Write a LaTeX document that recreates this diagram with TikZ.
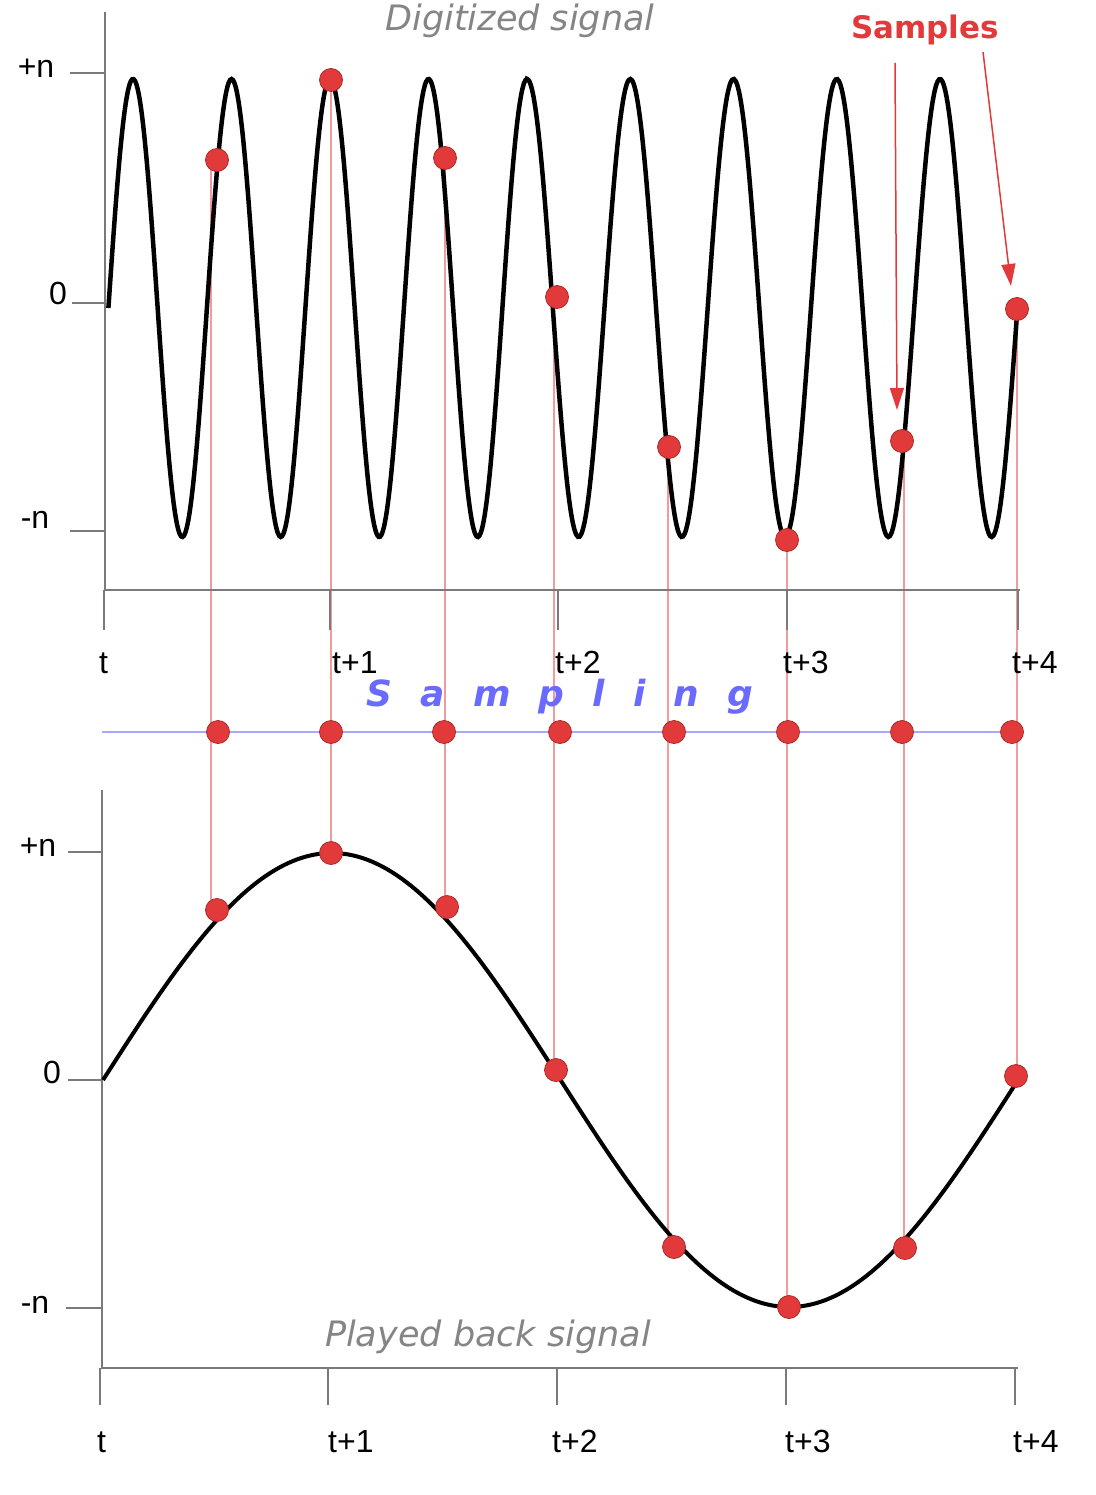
\documentclass[tikz,border=0pt]{standalone}
\usepackage{fontspec}
\setmainfont{Liberation Sans}
\newfontfamily\djv{DejaVu Sans}
\newfontfamily\djvsp[LetterSpace=78]{DejaVu Sans}
\usetikzlibrary{arrows.meta}
\pgfdeclarelayer{back}
\pgfdeclarelayer{bg}
\pgfsetlayers{back,bg,main}
\definecolor{dotred}{HTML}{E23A3A}
\definecolor{linered}{HTML}{F29A9E}
\definecolor{axisgray}{HTML}{7A7A7A}
\definecolor{sampblue}{HTML}{6A6AFF}
\definecolor{lineblue}{HTML}{A8A8FF}
\definecolor{labgray}{HTML}{858585}
\begin{document}
\begin{tikzpicture}[x=1pt,y=-1pt,
  axis/.style={draw=axisgray, line width=2pt},
  wave/.style={draw=black, line width=4.5pt},
  dot/.style={circle, fill=dotred, draw=dotred!75!black, line width=0.8pt, minimum size=23pt, inner sep=0pt},
  samp/.style={draw=linered, line width=1.8pt},
  ticklab/.style={font=\fontsize{32}{32}\selectfont, anchor=base west, inner sep=0pt},
  vlab/.style={font=\fontsize{32}{32}\selectfont, inner sep=0pt},
  titlelab/.style={font=\djv\itshape\fontsize{35}{35}\selectfont, text=labgray, inner sep=0pt},
  samparrow/.style={draw=dotred, line width=1.5pt, -{Triangle[length=22pt,width=14pt]}}]
\useasboundingbox (0,0) rectangle (1095,1495);
\begin{pgfonlayer}{back}
  \fill[white] (0,0) rectangle (1095,1495);
\end{pgfonlayer}

% ---------- top plot ----------
\draw[axis] (105,12) -- (105,590) -- (1020,590);
\foreach \x in {104,330,558,787,1018} \draw[axis] (\x,590) -- (\x,630);
\draw[axis] (70,73) -- (105,73);
\draw[axis] (72,303) -- (105,303);
\draw[axis] (70,531) -- (105,531);
\node[vlab] (tpn) at (36,68) {+n};
\node[vlab] (tz) at (58,293) {0};
\node[vlab] (tmn) at (35,520) {-n};
\node[ticklab] (tt0) at (99,673) {t};
\node[ticklab] (tt1) at (332,673) {t+1};
\node[ticklab] (tt2) at (555,673) {t+2};
\node[ticklab] (tt3) at (783,673) {t+3};
\node[ticklab] (tt4) at (1012,673) {t+4};
\draw[wave] plot[domain=108.4:527, samples=300, smooth] (\x, {308-229*sin(3.6548*(\x-108.4))})
  -- plot[domain=527:1018, samples=300, smooth] (\x, {308-229*cos(3.4867*(\x-527))});
\node[titlelab] (dig) at (520,21) {Digitized signal};
\node[font=\djv\bfseries\fontsize{31}{31}\selectfont, text=dotred, inner sep=0pt] (samples) at (925,30) {Samples};

% ---------- sampling line ----------
\draw[draw=lineblue, line width=2pt] (102,732) -- (1020,732);
\node[font=\djvsp\bfseries\itshape\fontsize{36}{36}\selectfont, text=sampblue, inner sep=0pt] (sampling) at (560,697) {Sampling};

% ---------- bottom plot ----------
\draw[axis] (102,790) -- (102,1368) -- (1018,1368);
\foreach \x in {100,328,557,786,1015} \draw[axis] (\x,1368) -- (\x,1405);
\draw[axis] (68,852) -- (102,852);
\draw[axis] (68,1080) -- (102,1080);
\draw[axis] (66,1308) -- (102,1308);
\node[vlab] (bpn) at (38,847) {+n};
\node[vlab] (bz) at (52,1072) {0};
\node[vlab] (bmn) at (35,1305) {-n};
\node[ticklab] (bt0) at (97,1452) {t};
\node[ticklab] (bt1) at (328,1452) {t+1};
\node[ticklab] (bt2) at (552,1452) {t+2};
\node[ticklab] (bt3) at (785,1452) {t+3};
\node[ticklab] (bt4) at (1013,1452) {t+4};
\draw[wave, line width=4pt] plot[domain=103:1018, samples=300, smooth] (\x, {1080-227*sin(0.39344*(\x-103))});
\node[titlelab] (play) at (488,1337) {Played back signal};

% ---------- sample dots ----------
\foreach \i/\x/\y in {1/217/160,2/331/80,3/445/158,4/557/297,5/669/447,6/787/540,7/902/441,8/1017/309}
  \node[dot] (t\i) at (\x,\y) {};
\foreach \i/\x in {1/218,2/331,3/444,4/560,5/674,6/788,7/902,8/1012}
  \node[dot] (m\i) at (\x,732) {};
\foreach \i/\x/\y in {1/217/910,2/331/853,3/447/907,4/556/1070,5/674/1247,6/789/1307,7/905/1248,8/1016/1076}
  \node[dot] (b\i) at (\x,\y) {};
\begin{pgfonlayer}{bg}
  \foreach \i/\lx in {1/211,2/331,3/445,4/554,5/668,6/787,7/904,8/1017}
    \draw[samp] (\lx,0 |- t\i) -- (\lx,0 |- b\i);
\end{pgfonlayer}

% ---------- arrows from "Samples" ----------
\coordinate (a1s) at (895,63);
\coordinate (a1e) at (897,410);
\coordinate (a2s) at (983,52);
\coordinate (a2e) at (1011,286);
\draw[samparrow] (a1s) -- (a1e);
\draw[samparrow] (a2s) -- (a2e);
\end{tikzpicture}
\end{document}
